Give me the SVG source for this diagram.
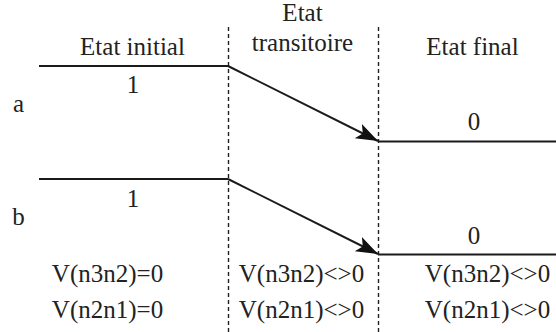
<svg xmlns="http://www.w3.org/2000/svg" width="556" height="332" viewBox="0 0 556 332">
<style>
text{font-family:'Liberation Serif','DejaVu Serif',serif;font-size:25px;fill:#222;text-anchor:middle}
.sig{stroke:#1a1a1a;stroke-width:2;fill:none}
.div{stroke:#222;stroke-width:1.4;stroke-dasharray:4,3;fill:none}
</style>
<defs>
<marker id="arr" markerUnits="userSpaceOnUse" markerWidth="24" markerHeight="18" refX="22" refY="8" orient="auto">
<path d="M0,0 L22,8 L0,16 L5,8 Z" fill="#111"/>
</marker>
</defs>
<rect width="556" height="332" fill="#fff"/>
<g id="dividers">
<line class="div" x1="228.5" y1="27" x2="228.5" y2="332"/>
<line class="div" x1="378.5" y1="27" x2="378.5" y2="332"/>
</g>
<g id="headers" font-family="Liberation Serif, serif">
<text x="132.5" y="55">Etat initial</text>
<text x="302.5" y="21">Etat</text>
<text x="302.5" y="51">transitoire</text>
<text x="472.5" y="55">Etat final</text>
</g>
<g id="connectors">
<g id="signal-a">
<polyline class="sig" points="39,66 228,66"/>
<line class="sig" x1="228" y1="66" x2="378" y2="141" marker-end="url(#arr)"/>
<line class="sig" x1="378" y1="141.5" x2="556" y2="141.5"/>
</g>
<g id="signal-b">
<polyline class="sig" points="39,179 228,179"/>
<line class="sig" x1="228" y1="179" x2="378" y2="254" marker-end="url(#arr)"/>
<line class="sig" x1="378" y1="254.5" x2="556" y2="254.5"/>
</g>
</g>
<g id="labels">
<text x="18.5" y="112">a</text>
<text x="133" y="93">1</text>
<text x="474" y="130">0</text>
<text x="18.5" y="225">b</text>
<text x="133" y="207">1</text>
<text x="474" y="244">0</text>
</g>
<g id="conditions">
<text x="107.5" y="282">V(n3n2)=0</text>
<text x="107.5" y="318">V(n2n1)=0</text>
<text x="301.5" y="282">V(n3n2)&lt;&gt;0</text>
<text x="301.5" y="318">V(n2n1)&lt;&gt;0</text>
<text x="487.5" y="282">V(n3n2)&lt;&gt;0</text>
<text x="487.5" y="318">V(n2n1)&lt;&gt;0</text>
</g>
</svg>
